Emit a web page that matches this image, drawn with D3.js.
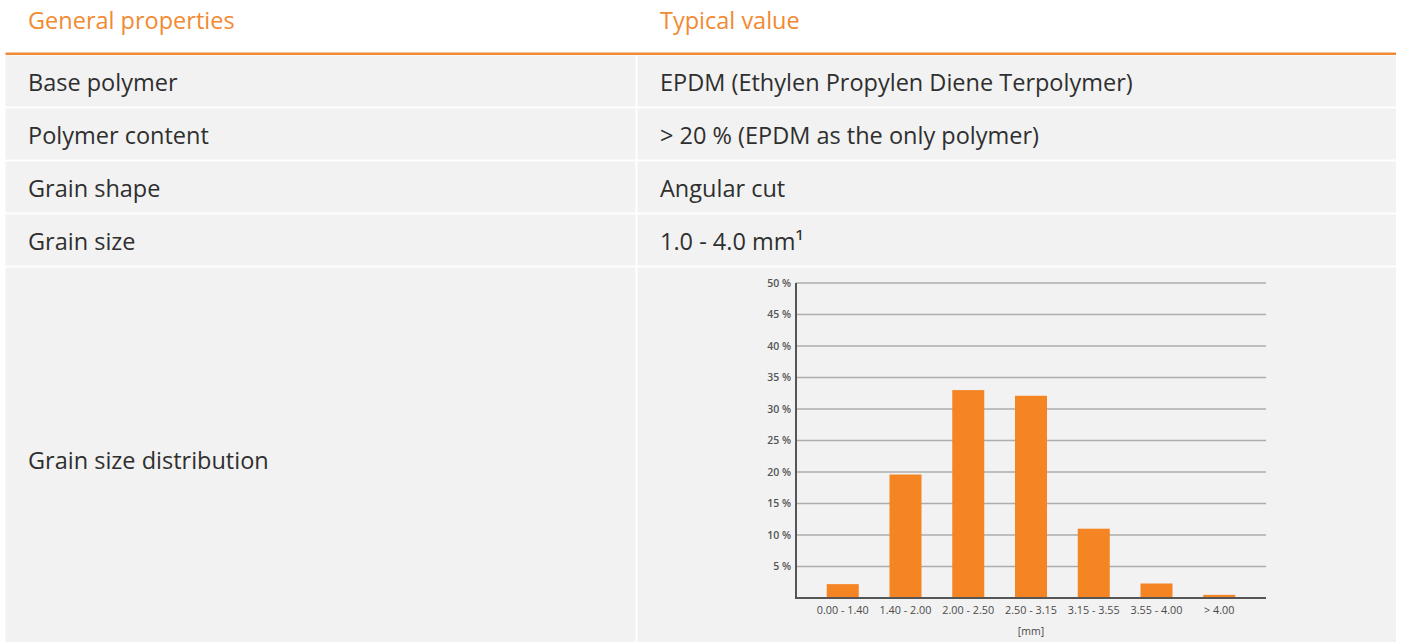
<!DOCTYPE html>
<html>
<head>
<meta charset="utf-8">
<script src="https://cdn.jsdelivr.net/npm/d3@7/dist/d3.min.js"></script>
<style>
  html, body { margin: 0; padding: 0; background: #ffffff; }
  svg { display: block; }
  text { font-family: "Open Sans", "Noto Sans", sans-serif; }
</style>
</head>
<body>
<svg id="chart" width="1401" height="642"></svg>
<script>
// ---- data ----
const headers = ["General properties", "Typical value"];
const properties = ["Base polymer", "Polymer content", "Grain shape", "Grain size", "Grain size distribution"];
const typicalValues = ["EPDM (Ethylen Propylen Diene Terpolymer)", "> 20 % (EPDM as the only polymer)", "Angular cut", "1.0 - 4.0 mm\u00B9"];
const categories = ["0.00 - 1.40", "1.40 - 2.00", "2.00 - 2.50", "2.50 - 3.15", "3.15 - 3.55", "3.55 - 4.00", "> 4.00"];
const shares = [2.2, 19.6, 33.0, 32.1, 11.0, 2.3, 0.5];
const yTicks = [5, 10, 15, 20, 25, 30, 35, 40, 45, 50];
const xAxisTitle = "[mm]";

// ---- styles ----
const orange = "#f18a32";
const barColor = "#f58423";
const rowBg = "#f2f2f2";
const textColor = "#2f2f2f";
const tableFont = 23.5;

const svg = d3.select("#chart");

// ---- table layout ----
const tableLeft = 5.5, tableRight = 1396, colSplit = 635.5, gap = 2;
const rowTop0 = 55.5, rowStep = 53, rowH = 51;
const rows = properties.map((p, i) => ({
  prop: p,
  val: typicalValues[i] || null,
  y: rowTop0 + i * rowStep,
  h: i === properties.length - 1 ? 642 - (rowTop0 + i * rowStep) : rowH,
  last: i === properties.length - 1
}));
const baseline = d => d.last ? 469 : d.y + d.h / 2 + 9.5;

// header text
svg.selectAll("text.hdr").data(headers).join("text")
  .attr("class", "hdr")
  .attr("x", (d, i) => i === 0 ? 28 : 660)
  .attr("y", 29)
  .attr("fill", orange)
  .attr("font-size", tableFont)
  .text(d => d);

// orange rule
svg.append("rect")
  .attr("x", tableLeft).attr("y", 52.5)
  .attr("width", tableRight - tableLeft).attr("height", 2.5)
  .attr("fill", orange);

// row backgrounds
const rowG = svg.selectAll("g.row").data(rows).join("g").attr("class", "row");
rowG.append("rect")
  .attr("x", tableLeft).attr("y", d => d.y)
  .attr("width", colSplit - tableLeft).attr("height", d => d.h)
  .attr("fill", rowBg);
rowG.append("rect")
  .attr("x", colSplit + gap).attr("y", d => d.y)
  .attr("width", tableRight - colSplit - gap).attr("height", d => d.h)
  .attr("fill", rowBg);
rowG.append("text")
  .attr("x", 28)
  .attr("y", baseline)
  .attr("fill", textColor)
  .attr("font-size", tableFont)
  .text(d => d.prop);
rowG.filter(d => d.val).append("text")
  .attr("x", 660)
  .attr("y", baseline)
  .attr("fill", textColor)
  .attr("font-size", tableFont)
  .text(d => d.val);

// ---- bar chart ----
const plot = { left: 796, right: 1266, top: 283, bottom: 598 };
const x = d3.scaleBand().domain(categories).range([plot.left, plot.right]).padding(0.49);
const y = d3.scaleLinear().domain([0, 50]).range([plot.bottom, plot.top]);

const chart = svg.append("g").attr("class", "barchart");

// gridlines
chart.selectAll("line.grid").data(yTicks).join("line")
  .attr("class", "grid")
  .attr("x1", plot.left).attr("x2", plot.right)
  .attr("y1", d => y(d)).attr("y2", d => y(d))
  .attr("stroke", "#adadad").attr("stroke-width", 1.5);

// bars
chart.selectAll("rect.bar").data(shares).join("rect")
  .attr("class", "bar")
  .attr("x", (d, i) => x(categories[i]))
  .attr("width", x.bandwidth())
  .attr("y", d => y(d))
  .attr("height", d => y(0) - y(d))
  .attr("fill", barColor);

// y axis labels
const yAxis = d3.axisLeft(y).tickValues(yTicks).tickSize(0).tickPadding(5).tickFormat(d => d + " %");
const yg = chart.append("g").attr("transform", `translate(${plot.left},0)`).call(yAxis);
yg.select(".domain").remove();
yg.selectAll("text").attr("font-size", 10.5).attr("font-weight", 600).attr("fill", "#555")
  .attr("font-family", "'Open Sans', sans-serif");

// x axis labels
const xAxis = d3.axisBottom(x).tickSize(0).tickPadding(8);
const xg = chart.append("g").attr("transform", `translate(0,${plot.bottom})`).call(xAxis);
xg.select(".domain").remove();
xg.selectAll("text").attr("font-size", 10.8).attr("fill", "#4a4a4a")
  .attr("font-family", "'Open Sans', sans-serif");

// axis lines
chart.append("line")
  .attr("x1", plot.left).attr("x2", plot.left)
  .attr("y1", plot.top).attr("y2", plot.bottom + 1)
  .attr("stroke", "#555").attr("stroke-width", 2);
chart.append("line")
  .attr("x1", plot.left).attr("x2", plot.right)
  .attr("y1", plot.bottom).attr("y2", plot.bottom)
  .attr("stroke", "#555").attr("stroke-width", 2);

// x axis title
chart.append("text")
  .attr("x", (plot.left + plot.right) / 2)
  .attr("y", 635)
  .attr("text-anchor", "middle")
  .attr("font-size", 10.5)
  .attr("fill", "#4a4a4a")
  .text(xAxisTitle);
</script>
</body>
</html>
